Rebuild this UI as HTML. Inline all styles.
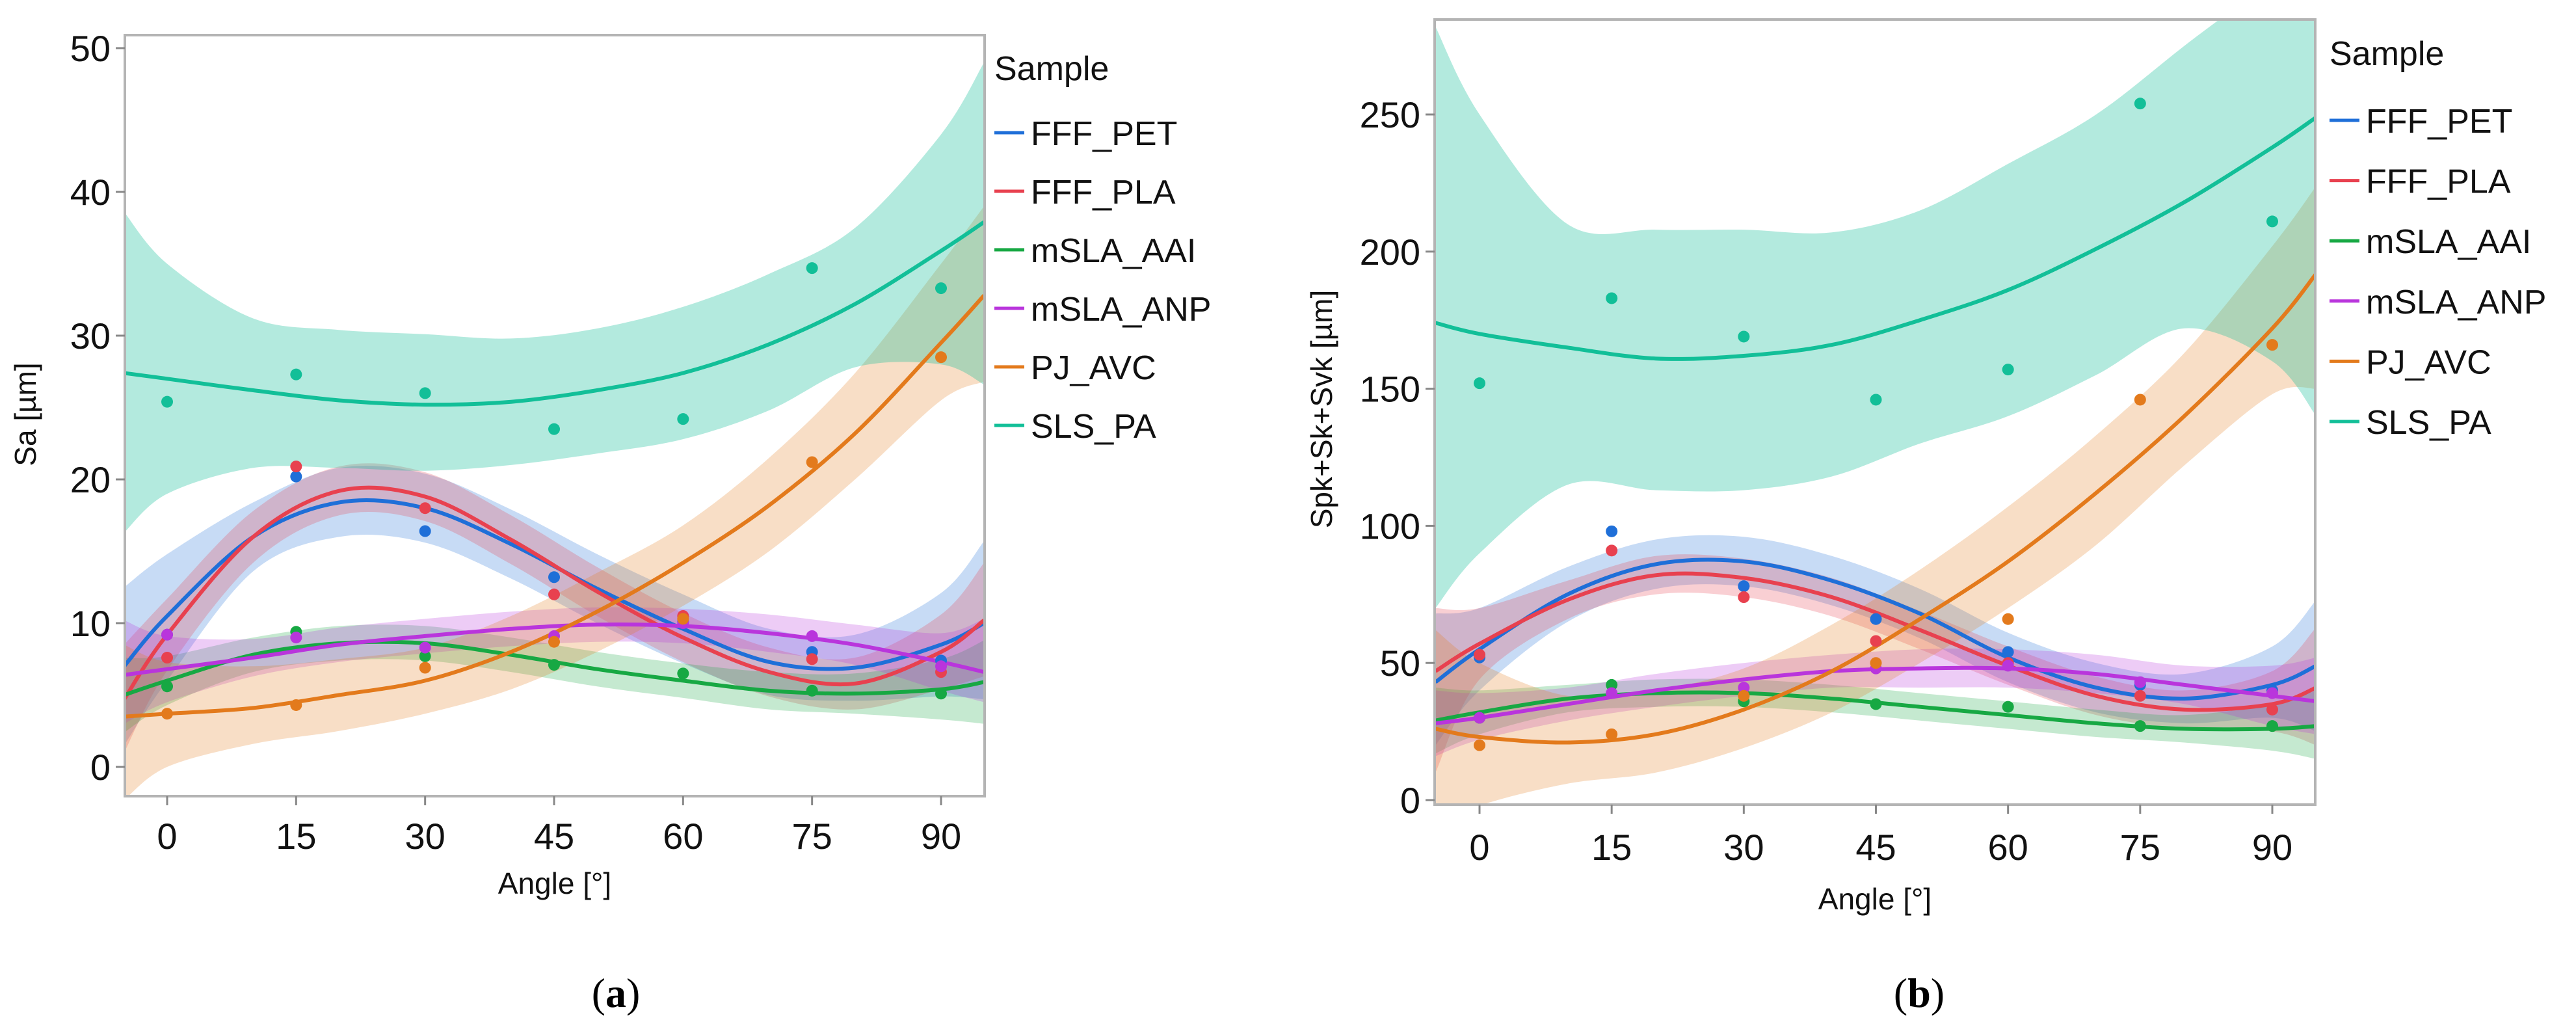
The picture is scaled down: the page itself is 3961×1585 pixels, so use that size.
<!DOCTYPE html>
<html><head><meta charset="utf-8"><style>
html,body{margin:0;padding:0;background:#fff;}
svg{display:block;font-family:"Liberation Sans",sans-serif;}
</style></head><body>
<svg id="root" width="3961" height="1585" viewBox="0 0 3961 1585" xmlns="http://www.w3.org/2000/svg"></svg>
<script>
const names = ["FFF_PET","FFF_PLA","mSLA_AAI","mSLA_ANP","PJ_AVC","SLS_PA"];
const colors = ["#1f6fd8","#e8414f","#17a843","#b935dc","#e37a1c","#12bf98"];
const fitAngles = [-5,0,10,20,30,40,50,60,70,80,90,95];
const pointAngles = [0,15,30,45,60,75,90];
const xTicks = [0,15,30,45,60,75,90];
// Panel a: Sa
const aTicks = [0,10,20,30,40,50];
const aFit = [
 [7.0,10.5,16,18.4,18.0,15.5,12.4,9.6,7.3,6.9,8.5,10],
 [4.7,9.2,16,19.2,18.8,15.8,12.2,9.0,6.6,5.8,8.0,10.2],
 [5.0,6.0,7.8,8.6,8.6,7.8,6.8,6.0,5.3,5.1,5.4,5.9],
 [6.4,6.8,7.6,8.5,9.1,9.6,9.9,9.8,9.3,8.5,7.3,6.6],
 [3.5,3.7,4.1,5.0,6.0,8.0,10.8,14.2,18.2,23.2,29.5,32.8],
 [27.4,27.0,26.2,25.5,25.2,25.4,26.2,27.4,29.4,32.2,35.9,37.9]];
const aLow = [
 [1.5,6.0,13.6,16.0,15.6,13.1,10.0,7.2,5.0,4.6,4.9,4.7],
 [1.0,6.7,14.2,17.5,17.1,14.1,10.5,7.3,4.9,4.0,5.4,6.3],
 [2.4,4.3,6.6,7.4,7.4,6.6,5.6,4.8,4.0,3.7,3.3,3.0],
 [3.0,4.5,6.3,7.3,7.9,8.4,8.7,8.6,8.0,7.1,5.3,4.5],
 [-2.3,0,1.6,2.5,3.7,5.4,8.0,11.2,15.0,20.0,25.5,26.8],
 [16.3,19.0,20.8,20.8,20.6,21.0,21.8,22.8,24.8,27.8,28.0,26.6]];
const aHigh = [
 [12.5,14.8,18.4,20.8,20.4,17.9,14.8,12.0,9.6,9.2,12.1,15.7],
 [8.5,11.7,17.8,20.9,20.5,17.5,13.9,10.7,8.3,7.6,10.6,14.2],
 [7.6,7.7,9.0,9.8,9.8,9.0,8.0,7.2,6.6,6.5,7.5,8.8],
 [10.2,9.1,8.9,9.7,10.3,10.8,11.1,11.0,10.6,9.9,9.3,10.3],
 [8.5,7.3,7.0,7.5,8.3,10.5,13.5,16.8,21.5,27.4,35.0,39.0],
 [38.6,35.0,31.2,30.4,30.1,29.8,30.5,32.0,34.3,37.5,44.0,49.0]];
const aPts = [
 [9.2,20.2,16.4,13.2,10.1,8.0,7.4],
 [7.6,20.9,18.0,12.0,10.5,7.5,6.6],
 [5.6,9.4,7.7,7.1,6.5,5.3,5.1],
 [9.2,9.0,8.3,9.1,10.0,9.1,7.0],
 [3.7,4.3,6.9,8.7,10.3,21.2,28.5],
 [25.4,27.3,26.0,23.5,24.2,34.7,33.3]];
// Panel b: Spk+Sk+Svk
const bTicks = [0,50,100,150,200,250];
const bFit = [
 [43,55,75,86,87,80,68,52,41,37,42,49],
 [47,57,73,82,81,74,62,49,38,33,35,41],
 [29,32,37,39,39,37,34,31,28,26,26,27],
 [28,30,35,40,44,47,48,48,46,42,38,36],
 [26,23,21,24,33,47,66,87,112,140,172,192],
 [174,170,165,161,162,166,175,186,201,218,238,249]];
const bLow = [
 [20,40,65,77,78,71,59,43,32,28,30,25],
 [10,44,66,75,74,67,55,42,31,26,25,20],
 [17,24,32,34,34,32,29,26,23,21,18,15],
 [16,22,29,34,38,41,41,41,39,35,27,24],
 [-10,-2,6,10,19,32,50,70,93,122,148,150],
 [70,90,115,113,113,118,130,140,155,172,160,140]];
const bHigh = [
 [68,70,85,95,96,89,77,61,50,46,56,73],
 [70,70,80,89,88,81,69,56,45,40,47,63],
 [41,40,42,44,44,42,39,36,33,31,35,40],
 [40,39,41,46,50,53,55,55,53,49,49,52],
 [62,50,38,40,48,64,84,107,133,163,202,224],
 [282,250,210,208,208,207,215,232,250,275,300,320]];
const bPts = [
 [52,98,78,66,54,42,40],
 [53,91,74,58,50,38,33],
 [30,42,36,35,34,27,27],
 [30,39,41,48,49,43,39],
 [20,24,38,50,66,146,166],
 [152,183,169,146,157,254,211]];

const NS="http://www.w3.org/2000/svg";
const root=document.getElementById('root');
function mk(tag,attrs,parent){const e=document.createElementNS(NS,tag);for(const k in attrs)e.setAttribute(k,attrs[k]);(parent||root).appendChild(e);return e;}
function spline(pts){ // catmull-rom to bezier
  let d="M"+pts[0][0].toFixed(1)+","+pts[0][1].toFixed(1);
  for(let i=0;i<pts.length-1;i++){
    const p0=pts[Math.max(0,i-1)],p1=pts[i],p2=pts[i+1],p3=pts[Math.min(pts.length-1,i+2)];
    const c1=[p1[0]+(p2[0]-p0[0])/6,p1[1]+(p2[1]-p0[1])/6];
    const c2=[p2[0]-(p3[0]-p1[0])/6,p2[1]-(p3[1]-p1[1])/6];
    d+=" C"+c1.map(v=>v.toFixed(1)).join(",")+" "+c2.map(v=>v.toFixed(1)).join(",")+" "+p2.map(v=>v.toFixed(1)).join(",");
  }
  return d;
}
function panel(cfg){
  const P=cfg;
  const xs=a=>P.x0+(a-0)*(P.x90-P.x0)/90;
  const ys=v=>P.y0-(v-P.t0)*(P.y0-P.yTop)/(P.tTop-P.t0);
  const g=mk('g',{});
  
  
  const cp=mk('clipPath',{id:P.id+'-clip'},g);
  mk('rect',{x:P.L,y:P.T,width:P.R-P.L,height:P.B-P.T},cp);
  const plot=mk('g',{'clip-path':'url(#'+P.id+'-clip)'},g);
  
  
  // bands
  for(let s=0;s<names.length;s++){
    const up=fitAngles.map((a,i)=>[xs(a),ys(P.high[s][i])]);
    const lo=fitAngles.map((a,i)=>[xs(a),ys(P.low[s][i])]).reverse();
    let d=spline(up)+" L"+lo[0][0].toFixed(1)+","+lo[0][1].toFixed(1)+spline(lo).replace(/^M[^C]*/," ")+" Z";
    const b=mk('path',{d:d,fill:colors[s],'fill-opacity':s==5?0.32:0.25,stroke:'none'},plot);
    
    
  }
  for(let s=0;s<names.length;s++){
    const ln=mk('path',{d:spline(fitAngles.map((a,i)=>[xs(a),ys(P.fit[s][i])])),fill:'none',stroke:colors[s],'stroke-width':6},plot);
    
    
  }
  for(let s=0;s<names.length;s++){
    for(let i=0;i<pointAngles.length;i++){
      const c=mk('circle',{cx:xs(pointAngles[i]),cy:ys(P.pts[s][i]),r:9,fill:colors[s]},plot);
      
      
    }
  }
  const fr=mk('rect',{x:P.L,y:P.T,width:P.R-P.L,height:P.B-P.T,fill:'none',stroke:'#b4b4b4','stroke-width':4},g);
  
  
  // x ticks
  for(const t of xTicks){
    mk('line',{x1:xs(t),x2:xs(t),y1:P.B,y2:P.B+14,stroke:'#888','stroke-width':3},g);
    const tx=mk('text',{x:xs(t),y:P.xLabY,'font-size':56,'text-anchor':'middle',fill:'#111'},g);
    tx.textContent=t;
    
    
  }
  for(const t of P.ticks){
    mk('line',{x1:P.L-14,x2:P.L,y1:ys(t),y2:ys(t),stroke:'#888','stroke-width':3},g);
    const tx=mk('text',{x:P.L-22,y:ys(t)+20,'font-size':56,'text-anchor':'end',fill:'#111'},g);
    tx.textContent=t;
    
    
  }
  const xt=mk('text',{x:(P.L+P.R)/2,y:P.xTitleY,'font-size':46,'text-anchor':'middle',fill:'#111'},g);
  xt.textContent='Angle [°]';
  
  
  const yt=mk('text',{x:0,y:0,'font-size':46,'text-anchor':'middle',fill:'#111',transform:'translate('+P.yTitleX+','+P.yTitleY+') rotate(-90)'},g);
  yt.textContent=P.ytitle;
  
  
  // legend
  const lg=mk('g',{},g);
  
  
  const st=mk('text',{x:P.legX,y:P.legTitleY,'font-size':52,fill:'#111'},lg);
  st.textContent='Sample';
  
  
  for(let s=0;s<names.length;s++){
    const y=P.legY0+s*P.legDy;
    mk('line',{x1:P.legX,x2:P.legX+46,y1:y,y2:y,stroke:colors[s],'stroke-width':5},lg);
    const t=mk('text',{x:P.legX+56,y:y+19,'font-size':52,fill:'#111'},lg);
    t.textContent=names[s];
    
    
  }
  const cap=mk('text',{x:P.capX,y:1548,'font-size':64,'text-anchor':'middle',fill:'#000','font-family':'Liberation Serif, serif'},g);
  cap.innerHTML='(<tspan font-weight="bold">'+P.cap+'</tspan>)';
  
  
}
panel({id:'sa',L:192,R:1514,T:54,B:1224,x0:257,x90:1447,y0:1179,yTop:74,t0:0,tTop:50,ticks:aTicks,
  fit:aFit,low:aLow,high:aHigh,pts:aPts,xLabY:1305,xTitleY:1374,yTitleX:55,yTitleY:637,ytitle:'Sa [µm]',
  legX:1529,legTitleY:123,legY0:204,legDy:90,capX:947,cap:'a'});
panel({id:'spk',L:2206,R:3560,T:30,B:1237,x0:2275,x90:3494,y0:1230,yTop:176,t0:0,tTop:250,ticks:bTicks,
  fit:bFit,low:bLow,high:bHigh,pts:bPts,xLabY:1322,xTitleY:1398,yTitleX:2048,yTitleY:629,ytitle:'Spk+Sk+Svk  [µm]',
  legX:3582,legTitleY:100,legY0:185,legDy:92.6,capX:2951,cap:'b'});
</script>
</body></html>
